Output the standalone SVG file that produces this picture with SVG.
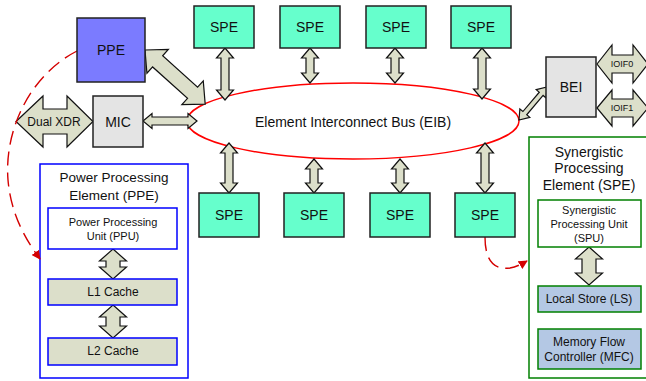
<svg xmlns="http://www.w3.org/2000/svg" width="646" height="381" viewBox="0 0 646 381">
<defs>
<style>
text{font-family:"Liberation Sans",Arial,sans-serif;fill:#111;text-anchor:middle}
.box{stroke:#222;stroke-width:1.5}
.spe{fill:#66ffcc}
.grey{fill:#e4e4e4}
.arr{fill:#dcdfca;stroke:#111;stroke-width:1.2;stroke-linejoin:miter}
.dash{fill:none;stroke:#d40000;stroke-width:1.4;stroke-dasharray:14 7}
.t14{font-size:14px}
.t13{font-size:13.5px}
.t12{font-size:12px}
.t11{font-size:11px}
.t9{font-size:9px}
</style>
<marker id="ah" viewBox="0 0 10 10" refX="9" refY="5" markerWidth="9" markerHeight="9" markerUnits="userSpaceOnUse" orient="auto">
<path d="M0,0 L10,5 L0,10 z" fill="#d40000"/>
</marker>
</defs>

<g id="eib">
<ellipse cx="353" cy="121" rx="166" ry="38" fill="#fff" stroke="#ff0000" stroke-width="1.5"/>
<text class="t14" x="353" y="127">Element Interconnect Bus (EIB)</text>
</g>

<g id="ppe-detail">
<rect x="40" y="164" width="148" height="214" fill="#fff" stroke="#0000ff" stroke-width="1.5"/>
<text class="t13" x="114" y="182">Power Processing</text>
<text class="t13" x="114" y="200">Element (PPE)</text>
</g>
<g id="spe-detail">
<rect x="529" y="137" width="118" height="241" fill="#fff" stroke="#008000" stroke-width="1.5"/>
<text class="t14" x="589" y="157">Synergistic</text>
<text class="t14" x="589" y="173">Processing</text>
<text class="t14" x="589" y="190">Element (SPE)</text>
</g>

<g id="connectors">
<polygon class="arr" transform="translate(145,50) rotate(42)" points="0,0 17,-16 17,-7.5 64,-7.5 64,-16 81,0 64,16 64,7.5 17,7.5 17,16"/>
<polygon class="arr" points="16,121.5 43,96 43,109 67,109 67,96 93,121.5 67,147 67,134 43,134 43,147"/>
<polygon class="arr" points="143,121 152,113.5 152,117 188,117 188,113.5 197,121 188,128.5 188,125 152,125 152,128.5"/>
<polygon class="arr" transform="translate(519,120) rotate(-49.7)" points="0,0 9,-6.5 9,-2.5 34.3,-2.5 34.3,-6.5 43.3,0 34.3,6.5 34.3,2.5 9,2.5 9,6.5"/>
<polygon class="arr" points="597,64 612,45 612,55 633,55 633,45 648,64 633,83 633,73 612,73 612,83"/>
<polygon class="arr" points="597,108 612,90 612,99 633,99 633,90 648,108 633,126 633,117 612,117 612,126"/>
<polygon class="arr" points="225,48 233.5,58 229,58 229,90 233.5,90 225,100 216.5,90 221,90 221,58 216.5,58"/>
<polygon class="arr" points="310,48 318.5,58 314,58 314,73 318.5,73 310,83 301.5,73 306,73 306,58 301.5,58"/>
<polygon class="arr" points="395,48 403.5,58 399,58 399,73 403.5,73 395,83 386.5,73 391,73 391,58 386.5,58"/>
<polygon class="arr" points="482,48 490.5,58 486,58 486,89 490.5,89 482,99 473.5,89 478,89 478,58 473.5,58"/>
<polygon class="arr" points="229,143 237.5,153 233,153 233,183 237.5,183 229,193 220.5,183 225,183 225,153 220.5,153"/>
<polygon class="arr" points="314,159 322.5,169 318,169 318,183 322.5,183 314,193 305.5,183 310,183 310,169 305.5,169"/>
<polygon class="arr" points="400,159 408.5,169 404,169 404,183 408.5,183 400,193 391.5,183 396,183 396,169 391.5,169"/>
<polygon class="arr" points="485,143 493.5,153 489,153 489,183 493.5,183 485,193 476.5,183 481,183 481,153 476.5,153"/>
<polygon class="arr" points="113,249 126.5,261 120,261 120,267 126.5,267 113,279 99.5,267 106,267 106,261 99.5,261"/>
<polygon class="arr" points="113,305 126.5,317 120,317 120,326 126.5,326 113,338 99.5,326 106,326 106,317 99.5,317"/>
<polygon class="arr" points="589,247 602.5,259 596,259 596,273 602.5,273 589,285 575.5,273 582,273 582,259 575.5,259"/>
<path class="dash" d="M77,51 C30,75 4,130 8,180 C11,215 26,240 40,259" marker-end="url(#ah)"/>
<path class="dash" d="M485,237 C485,262 495,270 510,268 C516,267 522,264 527,261" marker-end="url(#ah)"/>
</g>

<g id="ppe">
<rect class="box" x="77" y="18" width="68" height="64" fill="#7b7bff"/>
<text class="t14" x="111" y="55">PPE</text>
</g>
<g id="mic">
<rect class="box grey" x="93" y="96" width="50" height="51"/>
<text class="t14" x="118" y="127">MIC</text>
</g>
<g id="dualxdr"><text class="t12" x="54" y="126">Dual XDR</text></g>
<g id="bei">
<rect class="box grey" x="546" y="57" width="50" height="60"/>
<text class="t14" x="571" y="92">BEI</text>
</g>
<g id="ioif0"><text class="t9" x="622" y="67">IOIF0</text></g>
<g id="ioif1"><text class="t9" x="622" y="111">IOIF1</text></g>

<g id="spe-t1"><rect class="box spe" x="194" y="6" width="60" height="42"/><text class="t14" x="224" y="32">SPE</text></g>
<g id="spe-t2"><rect class="box spe" x="280" y="6" width="60" height="42"/><text class="t14" x="310" y="32">SPE</text></g>
<g id="spe-t3"><rect class="box spe" x="366" y="6" width="60" height="42"/><text class="t14" x="396" y="32">SPE</text></g>
<g id="spe-t4"><rect class="box spe" x="451" y="6" width="60" height="42"/><text class="t14" x="481" y="32">SPE</text></g>
<g id="spe-b1"><rect class="box spe" x="199" y="193" width="60" height="44"/><text class="t14" x="229" y="220">SPE</text></g>
<g id="spe-b2"><rect class="box spe" x="284" y="193" width="60" height="44"/><text class="t14" x="314" y="220">SPE</text></g>
<g id="spe-b3"><rect class="box spe" x="370" y="193" width="60" height="44"/><text class="t14" x="400" y="220">SPE</text></g>
<g id="spe-b4"><rect class="box spe" x="455" y="193" width="60" height="44"/><text class="t14" x="485" y="220">SPE</text></g>

<g id="ppu">
<rect x="48" y="208" width="129" height="41" fill="#fff" stroke="#0000ff" stroke-width="1.5"/>
<text class="t11" x="113" y="226">Power Processing</text>
<text class="t11" x="113" y="240">Unit (PPU)</text>
</g>
<g id="l1">
<rect x="48" y="279" width="129" height="26" fill="#dcdfca" stroke="#0000ff" stroke-width="1.5"/>
<text class="t12" x="113" y="296">L1 Cache</text>
</g>
<g id="l2">
<rect x="48" y="338" width="129" height="27" fill="#dcdfca" stroke="#0000ff" stroke-width="1.5"/>
<text class="t12" x="113" y="355">L2 Cache</text>
</g>

<g id="spu">
<rect x="538" y="200" width="103" height="47" fill="#fff" stroke="#008000" stroke-width="1.5"/>
<text class="t11" x="589" y="214">Synergistic</text>
<text class="t11" x="589" y="228">Processing Unit</text>
<text class="t11" x="589" y="242">(SPU)</text>
</g>
<g id="ls">
<rect x="538" y="286" width="103" height="26" fill="#b4c8e4" stroke="#008000" stroke-width="1.5"/>
<text class="t12" x="589" y="303">Local Store (LS)</text>
</g>
<g id="mfc">
<rect x="538" y="329" width="103" height="40" fill="#b4c8e4" stroke="#008000" stroke-width="1.5"/>
<text class="t12" x="589" y="346">Memory Flow</text>
<text class="t12" x="589" y="361">Controller (MFC)</text>
</g>
</svg>
